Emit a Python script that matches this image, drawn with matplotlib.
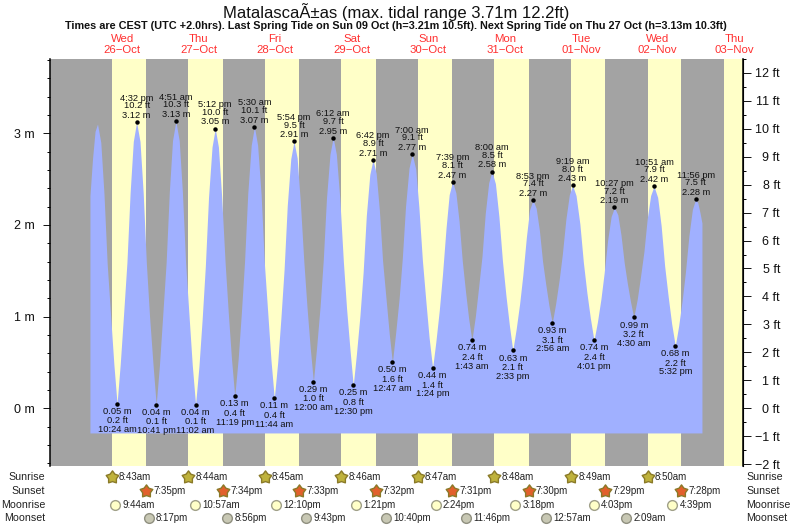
import matplotlib
matplotlib.use('Agg')
import matplotlib.pyplot as plt
from matplotlib.path import Path
from matplotlib.transforms import blended_transform_factory
from matplotlib.ticker import MultipleLocator, FuncFormatter

plt.rcParams['font.family'] = ['Liberation Sans', 'DejaVu Sans']

# hours are counted from 00:00 on 26 Oct
curve_hours = [1.9, 2.7, 3.5, 4.27,
    5.3, 6.3, 7.3, 8.4, 9.4, 10.4,
    11.4, 12.4, 13.5, 14.5, 15.5, 16.53,
    17.6, 18.6, 19.6, 20.6, 21.7, 22.68,
    23.7, 24.7, 25.8, 26.8, 27.8, 28.85,
    29.9, 30.9, 31.9, 33.0, 34.0, 35.03,
    36.1, 37.1, 38.1, 39.1, 40.2, 41.2,
    42.2, 43.2, 44.3, 45.3, 46.3, 47.32,
    48.4, 49.4, 50.4, 51.4, 52.5, 53.5,
    54.5, 55.6, 56.6, 57.7, 58.7, 59.73,
    60.8, 61.8, 62.8, 63.8, 64.9, 65.9,
    66.9, 67.9, 69.0, 70.0, 71.0, 72.0,
    73.0, 74.1, 75.1, 76.1, 77.2, 78.2,
    79.2, 80.3, 81.4, 82.4, 83.5, 84.5,
    85.5, 86.6, 87.6, 88.6, 89.7, 90.7,
    91.7, 92.7, 93.7, 94.8, 95.8, 96.78,
    97.8, 98.9, 99.9, 100.9, 102.0, 103.0,
    104.1, 105.1, 106.2, 107.3, 108.3, 109.4,
    110.4, 111.5, 112.5, 113.6, 114.6, 115.65,
    116.7, 117.7, 118.7, 119.7, 120.7, 121.72,
    122.8, 123.8, 124.9, 125.9, 127.0, 128.0,
    129.1, 130.2, 131.3, 132.4, 133.5, 134.55,
    135.6, 136.7, 137.7, 138.8, 139.8, 140.88,
    141.9, 142.9, 143.9, 144.9, 145.9, 146.93,
    148.0, 149.1, 150.1, 151.2, 152.3, 153.32,
    154.4, 155.6, 156.7, 157.8, 158.9, 160.02,
    161.1, 162.2, 163.2, 164.3, 165.4, 166.45,
    167.5, 168.5, 169.5, 170.5, 171.5, 172.5,
    173.6, 174.6, 175.7, 176.7, 177.8, 178.85,
    180.0, 181.1, 182.2, 183.3, 184.4, 185.53,
    186.6, 187.7, 188.7, 189.8, 190.9, 191.93,
    192.6, 193.3, 193.9]
curve_m = [2.32, 2.72, 3.02, 3.10,
    2.90, 2.34, 1.58, 1.00, 0.48, 0.05,
    0.48, 1.00, 1.59, 2.35, 2.91, 3.12,
    2.91, 2.35, 1.58, 1.00, 0.47, 0.04,
    0.47, 1.00, 1.59, 2.36, 2.92, 3.13,
    2.92, 2.36, 1.59, 1.00, 0.47, 0.04,
    0.46, 0.97, 1.55, 2.30, 2.85, 3.05,
    2.85, 2.32, 1.59, 1.04, 0.54, 0.13,
    0.54, 1.04, 1.60, 2.34, 2.87, 3.07,
    2.87, 2.33, 1.59, 1.03, 0.52, 0.11,
    0.50, 0.98, 1.51, 2.21, 2.72, 2.91,
    2.73, 2.25, 1.60, 1.10, 0.66, 0.29,
    0.66, 1.11, 1.62, 2.29, 2.77, 2.95,
    2.77, 2.28, 1.60, 1.09, 0.63, 0.25,
    0.59, 1.01, 1.48, 2.10, 2.55, 2.71,
    2.56, 2.16, 1.61, 1.19, 0.81, 0.50,
    0.82, 1.20, 1.64, 2.20, 2.62, 2.77,
    2.61, 2.19, 1.61, 1.16, 0.77, 0.44,
    0.72, 1.07, 1.46, 1.96, 2.33, 2.47,
    2.35, 2.04, 1.61, 1.28, 0.98, 0.74,
    1.00, 1.31, 1.66, 2.12, 2.46, 2.58,
    2.45, 2.09, 1.61, 1.23, 0.90, 0.63,
    0.86, 1.14, 1.45, 1.86, 2.16, 2.27,
    2.18, 1.94, 1.60, 1.35, 1.12, 0.93,
    1.14, 1.40, 1.68, 2.06, 2.33, 2.43,
    2.32, 2.01, 1.59, 1.26, 0.98, 0.74,
    0.94, 1.19, 1.47, 1.83, 2.09, 2.19,
    2.11, 1.89, 1.59, 1.36, 1.16, 0.99,
    1.19, 1.43, 1.71, 2.06, 2.32, 2.42,
    2.30, 1.99, 1.55, 1.22, 0.92, 0.68,
    0.90, 1.18, 1.48, 1.88, 2.17, 2.28,
    2.24, 2.13, 2.02]

# labelled tides, low first then alternating
tide_hours = [10.4, 16.53, 22.68, 28.85, 35.03, 41.2, 47.32, 53.5, 59.73, 65.9,
              72.0, 78.2, 84.5, 90.7, 96.78, 103.0, 109.4, 115.65, 121.72, 128.0,
              134.55, 140.88, 146.93, 153.32, 160.02, 166.45, 172.5, 178.85, 185.53, 191.93]
tide_m = ['0.05', '3.12', '0.04', '3.13', '0.04', '3.05', '0.13', '3.07', '0.11', '2.91',
          '0.29', '2.95', '0.25', '2.71', '0.50', '2.77', '0.44', '2.47', '0.74', '2.58',
          '0.63', '2.27', '0.93', '2.43', '0.74', '2.19', '0.99', '2.42', '0.68', '2.28']
tide_ft = ['0.2', '10.2', '0.1', '10.3', '0.1', '10.0', '0.4', '10.1', '0.4', '9.5',
           '1.0', '9.7', '0.8', '8.9', '1.6', '9.1', '1.4', '8.1', '2.4', '8.5',
           '2.1', '7.4', '3.1', '8.0', '2.4', '7.2', '3.2', '7.9', '2.2', '7.5']
tide_times = ['10:24 am', '4:32 pm', '10:41 pm', '4:51 am', '11:02 am', '5:12 pm', '11:19 pm',
              '5:30 am', '11:44 am', '5:54 pm', '12:00 am', '6:12 am', '12:30 pm', '6:42 pm',
              '12:47 am', '7:00 am', '1:24 pm', '7:39 pm', '1:43 am', '8:00 am', '2:33 pm',
              '8:53 pm', '2:56 am', '9:19 am', '4:01 pm', '10:27 pm', '4:30 am', '10:51 am',
              '5:32 pm', '11:56 pm']

day_names = ['Wed', 'Thu', 'Fri', 'Sat', 'Sun', 'Mon', 'Tue', 'Wed', 'Thu']
day_dates = ['26\u2212Oct', '27\u2212Oct', '28\u2212Oct', '29\u2212Oct', '30\u2212Oct',
             '31\u2212Oct', '01\u2212Nov', '02\u2212Nov', '03\u2212Nov']

sunrise_hours = [8.72, 32.73, 56.75, 80.77, 104.78, 128.8, 152.82, 176.83, 200.85]
sunset_hours = [19.58, 43.57, 67.55, 91.53, 115.52, 139.5, 163.48, 187.47]
sunrise_labels = ['8:43am', '8:44am', '8:45am', '8:46am', '8:47am', '8:48am', '8:49am', '8:50am']
sunset_labels = ['7:35pm', '7:34pm', '7:33pm', '7:32pm', '7:31pm', '7:30pm', '7:29pm', '7:28pm']
moonrise_hours = [9.73, 34.95, 60.17, 85.35, 110.4, 135.3, 160.05, 184.65]
moonrise_labels = ['9:44am', '10:57am', '12:10pm', '1:21pm', '2:24pm', '3:18pm', '4:03pm', '4:39pm']
moonset_hours = [20.28, 44.93, 69.72, 94.67, 119.77, 144.95, 170.15]
moonset_labels = ['8:17pm', '8:56pm', '9:43pm', '10:40pm', '11:46pm', '12:57am', '2:09am']

W, H = 793, 526
LEFT, RIGHT, TOP, BOTTOM = 49.5, 742.7, 58.7, 466.3
X0 = 83.9
PX_PER_HOUR = 76.5 / 24
Y0 = 408.2
PX_PER_M = 91.67
BLUE_FLOOR = -0.27

fig = plt.figure(figsize=(W / 100, H / 100), dpi=100)
ax = fig.add_axes([LEFT / W, 1 - BOTTOM / H, (RIGHT - LEFT) / W, (BOTTOM - TOP) / H])
ax.set_xlim((LEFT - X0) / PX_PER_HOUR, (RIGHT - X0) / PX_PER_HOUR)
ax.set_ylim((Y0 - BOTTOM) / PX_PER_M, (Y0 - TOP) / PX_PER_M)
ax.set_facecolor('#a3a3a3')

# daylight bands, the last one runs off the right edge
for i, rise in enumerate(sunrise_hours):
    end = sunset_hours[i] if i < len(sunset_hours) else ax.get_xlim()[1]
    ax.axvspan(rise, end, color='#ffffc8', lw=0, zorder=1)

ax.fill_between(curve_hours, BLUE_FLOOR, curve_m, color='#a0b0ff', lw=0, zorder=2)

# tide dots and their three line labels
for i, t in enumerate(tide_hours):
    y = float(tide_m[i])
    ax.plot(t, y, 'o', color='black', ms=3.2, mew=0, zorder=4)
    if i % 2 == 0:
        offsets = [-7.6, -17.3, -26.0]
    else:
        offsets = [6.7, 16.4, 24.0]
    lines = [tide_m[i] + ' m', tide_ft[i] + ' ft', tide_times[i]]
    for text, off in zip(lines, offsets):
        ax.annotate(text, (t, y), xytext=(0, off * 0.72), textcoords='offset points',
                    ha='center', va='center', fontsize=6.7, color='#111111', zorder=5)

# axes
ax.spines['top'].set_visible(False)
ax.spines['bottom'].set_visible(False)
ax.spines['left'].set_linewidth(1.1)
ax.set_xticks([])
ax.yaxis.set_major_locator(MultipleLocator(1))
ax.yaxis.set_minor_locator(MultipleLocator(0.2))
ax.yaxis.set_major_formatter(FuncFormatter(lambda v, p: '%d m' % round(v)))
ax.tick_params(axis='y', which='major', length=5.4, width=0.7, labelsize=9, pad=5, colors='#111111')
ax.tick_params(axis='y', which='minor', length=2.5, width=0.7)

ax2 = ax.twinx()
ax2.set_ylim(ax.get_ylim()[0] / 0.3048, ax.get_ylim()[1] / 0.3048)
ax2.spines['top'].set_visible(False)
ax2.spines['bottom'].set_visible(False)
ax2.spines['left'].set_visible(False)
ax2.spines['right'].set_linewidth(1.1)
ax2.yaxis.set_major_locator(MultipleLocator(1))
ax2.yaxis.set_minor_locator(MultipleLocator(0.5))
ax2.yaxis.set_major_formatter(FuncFormatter(lambda v, p: ('%d ft' % round(v)).replace('-', '\u2212')))
ax2.tick_params(axis='y', which='major', length=5.4, width=0.7, labelsize=9, pad=21.5, colors='#111111')
ax2.tick_params(axis='y', which='minor', length=2.5, width=0.7)
for lab in ax2.get_yticklabels():
    lab.set_ha('right')

# titles and dates, placed in pixels of the figure
def fig_text(x, y, text, **kw):
    fig.text(x / W, 1 - y / H, text, va='center', **kw)

fig_text(396, 12, 'Matalasca\u00c3\u00b1as (max. tidal range 3.71m 12.2ft)', ha='center', fontsize=12, color='#111111')
fig_text(396, 25.7, 'Times are CEST (UTC +2.0hrs). Last Spring Tide on Sun 09 Oct (h=3.21m 10.5ft). '
         'Next Spring Tide on Thu 27 Oct (h=3.13m 10.3ft)', ha='center', fontsize=7.85, weight='bold', color='#111111')

trans = blended_transform_factory(ax.transData, fig.transFigure)
for i, (name, date) in enumerate(zip(day_names, day_dates)):
    t = 24 * i + 12
    ax.text(t, 1 - 38.7 / H, name, transform=trans, ha='center', va='center', fontsize=8.2, color='#ff3030', clip_on=False)
    ax.text(t, 1 - 50 / H, date, transform=trans, ha='center', va='center', fontsize=8.2, color='#ff3030', clip_on=False)

# sun and moon rows
fat_star = Path.unit_regular_star(5, innerCircle=0.62)
rows = [
    ('Sunrise', 477, sunrise_hours[:8], sunrise_labels, fat_star, 9.5, '#bfb23c', '#8a7a28'),
    ('Sunset', 491, sunset_hours, sunset_labels, fat_star, 9.5, '#e2602c', '#8a7a28'),
    ('Moonrise', 504.5, moonrise_hours, moonrise_labels, 'o', 7.0, '#ffffc8', '#a0a088'),
    ('Moonset', 518, moonset_hours, moonset_labels, 'o', 7.0, '#c8c8b4', '#909080'),
]
for name, ypx, hours, labels, marker, size, face, edge in rows:
    yf = 1 - ypx / H
    fig_text(45, ypx, name, ha='right', fontsize=7.7, color='#222222')
    fig_text(746.5, ypx, name, ha='left', fontsize=7.7, color='#222222')
    for t, lab in zip(hours, labels):
        ax.plot(t, yf, marker=marker, ms=size, mfc=face, mec=edge, mew=1.0, transform=trans, clip_on=False, zorder=6)
        ax.annotate(lab, (t, yf), xycoords=trans, xytext=(5.2, 0), textcoords='offset points',
                    ha='left', va='center', fontsize=7.0, color='#222222', annotation_clip=False)

fig.savefig('out.png', dpi=100)
